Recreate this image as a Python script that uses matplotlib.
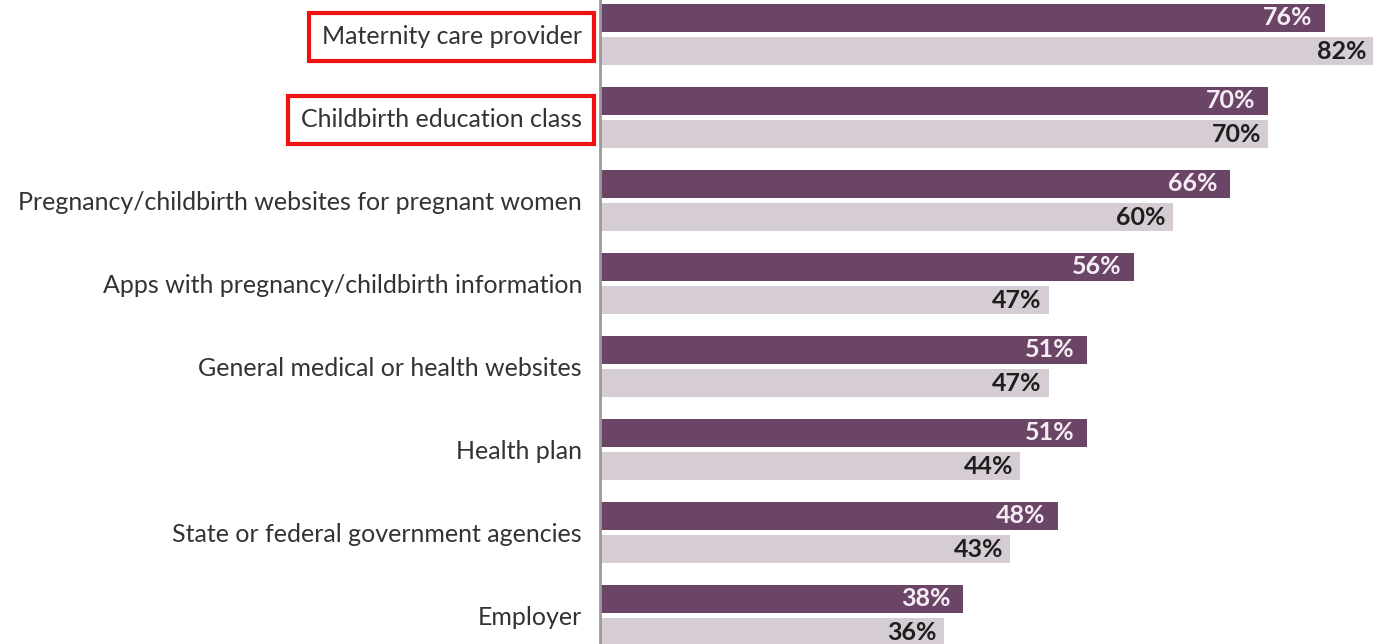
import matplotlib.pyplot as plt
import numpy as np

# --- Data ---
categories = [
    "Maternity care provider",
    "Childbirth education class",
    "Pregnancy/childbirth websites for pregnant women",
    "Apps with pregnancy/childbirth information",
    "General medical or health websites",
    "Health plan",
    "State or federal government agencies",
    "Employer",
]
series_dark = [76, 70, 66, 56, 51, 51, 48, 38]
series_light = [82, 70, 60, 47, 47, 44, 43, 36]
highlighted = ["Maternity care provider", "Childbirth education class"]

# --- Style ---
DARK = "#6b4566"
LIGHT = "#d6ccd3"
FONT = "Lato"

fig = plt.figure(figsize=(13.73, 6.44), dpi=100)
ax = fig.add_axes([600 / 1373, 0, 773 / 1373, 1])

y = np.arange(len(categories))
h = 0.34
ax.barh(y - 0.2, series_dark, height=h, color=DARK)
ax.barh(y + 0.2, series_light, height=h, color=LIGHT)

ax.set_xlim(0, 81.0)
ax.set_ylim(7.343, -0.416)

# value labels inside bar ends
for yi, v in zip(y, series_dark):
    ax.annotate(f"{v}%", (v, yi - 0.2), xytext=(-9, 0), textcoords="offset points",
                ha="right", va="center", color="#f6ecf4", fontsize=18,
                fontweight="bold", family=FONT)
for yi, v in zip(y, series_light):
    ax.annotate(f"{v}%", (min(v, 81.0), yi + 0.2), xytext=(-5, 0), textcoords="offset points",
                ha="right", va="center", color="#1e1e1e", fontsize=18,
                fontweight="bold", family=FONT, annotation_clip=False)

ax.set_yticks(y)
ax.set_yticklabels(categories, fontsize=18, family=FONT, color="#333333")
ax.tick_params(axis="y", length=0, pad=13)
ax.set_xticks([])

for s in ["top", "right", "bottom"]:
    ax.spines[s].set_visible(False)
ax.spines["left"].set_color("#9a9a9a")
ax.spines["left"].set_linewidth(2)

# red boxes around the highlighted labels
for lbl in ax.get_yticklabels():
    if lbl.get_text() in highlighted:
        lbl.set_bbox(dict(boxstyle="square,pad=0.5", fc="none", ec="#ee1111", lw=3))

fig.savefig("out.png", dpi=100)
